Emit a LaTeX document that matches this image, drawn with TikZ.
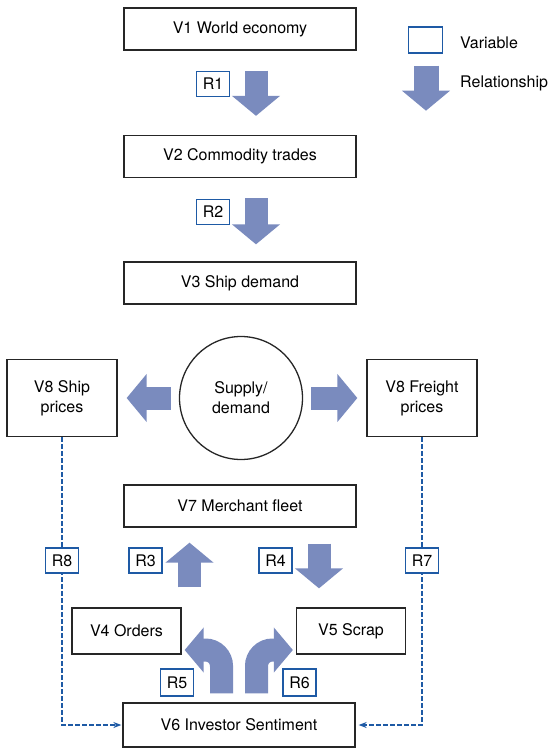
\documentclass[tikz,border=0pt]{standalone}
\usepackage{fontspec}
\setmainfont{TeX Gyre Heros}
\usetikzlibrary{arrows.meta,calc}
\definecolor{relfill}{RGB}{122,139,190}
\definecolor{rblue}{RGB}{30,90,165}
\begin{document}
\begin{tikzpicture}[x=1pt,y=-1pt,font=\fontsize{16}{20}\selectfont,
  var/.style={draw=black!85,line width=1.3pt,minimum width=232pt,minimum height=42pt,inner sep=0pt,align=center},
  rbox/.style={draw=rblue,line width=1.4pt,fill=white,minimum width=33pt,minimum height=25pt,inner sep=0pt},
  rel/.style={draw=relfill,line width=23pt,-{Triangle[width=47pt,length=20pt]}},
  turnarrow/.style={rel,rounded corners=16pt,-{Triangle[width=44pt,length=19pt]}},
  dashlink/.style={draw=rblue,line width=1.2pt,dash pattern=on 4.5pt off 2.5pt,-{Stealth[length=8pt,width=6pt]}}]
\useasboundingbox (0,0) rectangle (549,750);
\node[var] (v1) at (240,29) {V1 World economy};
\node[var] (v2) at (240,156.5) {V2 Commodity trades};
\node[var] (v3) at (240,283) {V3 Ship demand};
\node[var,minimum width=110pt,minimum height=77pt] (ship) at (62,398) {V8 Ship\\prices};
\node[var,minimum width=110pt,minimum height=77pt] (freight) at (422,398) {V8 Freight\\prices};
\node[circle,draw=black!85,line width=1.3pt,minimum size=123pt,inner sep=0pt,align=center] (sd) at (241,398) {Supply/\\demand};
\node[var] (v7) at (240,506) {V7 Merchant fleet};
\node[var,minimum width=109pt,minimum height=46pt] (v4) at (126.5,631) {V4 Orders};
\node[var,minimum width=109pt,minimum height=46pt] (v5) at (351,631) {V5 Scrap};
\node[var,minimum height=44pt] (v6) at (239,725) {V6 Investor Sentiment};
% key
\node[rbox,minimum width=34pt,minimum height=26pt] (key) at (425.5,40) {};
\node[anchor=west,inner sep=0pt] (keyvar) at (460,43) {Variable};
\node[anchor=west,inner sep=0pt] (keyrel) at (460,83) {Relationship};
\draw[rel,line width=25pt] ($(key.south)+(0.5,12)$) -- ++(0,45);
% relationships
\draw[rel] ($(v1.south)+(16,20)$) -- ($(v2.north)+(16,-19)$);
\draw[rel] ($(v2.south)+(16,20)$) -- ($(v3.north)+(16,-17)$);
\draw[rel] ($(sd.west)+(-8,0)$) -- ($(ship.east)+(9,0)$);
\draw[rel] ($(sd.east)+(8,0)$) -- ($(freight.west)+(-9,0)$);
\draw[rel] ($(v4.north)+(63,-20)$) -- ($(v7.south)+(-50.5,15)$);
\draw[rel] ($(v7.south)+(79,16)$) -- ($(v5.north)+(-32,-19)$);
\draw[turnarrow] ($(v6.north)+(-17.5,-9)$) |- ($(v4.east)+(3,19)$);
\draw[turnarrow] ($(v6.north)+(17.5,-9)$) |- ($(v5.west)+(-3,19)$);
\draw[dashlink] (ship.south) |- ($(v6.west)+(-1,0)$);
\draw[dashlink] (freight.south) |- ($(v6.east)+(3,0)$);
% labels
\foreach \n/\x/\y in {r1/213/84, r2/213/212, r3/145.5/560.5, r4/275.5/560.5}
  {\node[rbox] (\n) at (\x,\y) {\MakeUppercase{\n}};}
\node[rbox] (r8) at (ship.south |- r3) {R8};
\node[rbox] (r7) at (freight.south |- r3) {R7};
\node[rbox,minimum height=27pt] (r5) at (177,682.5) {R5};
\node[rbox,minimum height=27pt] (r6) at (299.5,682.5) {R6};
\end{tikzpicture}
\end{document}
